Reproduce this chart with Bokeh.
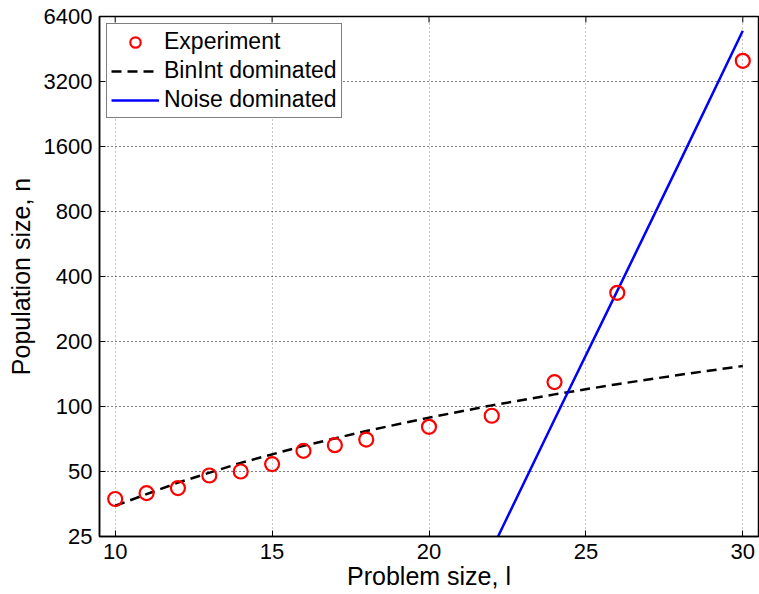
import math

from bokeh.plotting import figure
from bokeh.models import FixedTicker, Legend, LegendItem, Range1d
from bokeh.embed import file_html
from bokeh.resources import INLINE

# Measured population sizes per problem size
problem_size = [10, 11, 12, 13, 14, 15, 16, 17, 18, 20, 22, 24, 26, 30]
population = [37.3, 39.7, 41.9, 47.9, 50, 54.1, 62.3, 66.2, 70.3, 80.5, 90.6,
              129.7, 336, 3990]

# BinInt-dominated model curve
binint_l = [10, 12, 14, 16, 18, 20, 22, 24, 26, 28, 30]
binint_n = [34.7, 44.4, 54.8, 65.7, 77.0, 88.8, 101.2, 113.8, 126.9, 140.3, 154]

# Noise-dominated model curve
noise_l = [22.2, 24, 26, 28, 30]
noise_n = [25, 87, 343, 1365, 5500]

x_ticks = [10, 15, 20, 25, 30]
y_ticks = [25, 50, 100, 200, 400, 800, 1600, 3200, 6400]
y_tick_labels = {t: str(t) for t in y_ticks}

X_MIN, X_MAX = 9.5, 30.5
Y_MIN, Y_MAX = 25, 6400

FONT = "Liberation Sans"
TICK_SIZE = "22px"
LABEL_SIZE = "25px"

p = figure(width=759, height=594, output_backend="svg", toolbar_location=None,
           y_axis_type="log",
           x_range=Range1d(X_MIN, X_MAX), y_range=Range1d(Y_MIN, Y_MAX),
           min_border_left=99, min_border_right=1, min_border_top=16,
           min_border_bottom=58)

p.background_fill_color = "white"
p.border_fill_color = "white"
p.outline_line_color = "black"
p.outline_line_width = 1.5

# Axes with inward ticks
for ax in (p.xaxis[0], p.yaxis[0]):
    ax.major_tick_in = 6
    ax.major_tick_out = 0
    ax.minor_tick_line_color = None
    ax.axis_line_width = 1.5
    ax.major_tick_line_width = 1
    ax.major_label_text_font = FONT
    ax.major_label_text_font_size = TICK_SIZE
    ax.major_label_text_color = "black"
    ax.axis_label_text_font = FONT
    ax.axis_label_text_font_size = LABEL_SIZE
    ax.axis_label_text_font_style = "normal"
    ax.axis_label_text_color = "black"

p.xaxis.ticker = FixedTicker(ticks=x_ticks)
p.yaxis.ticker = FixedTicker(ticks=y_ticks)
p.yaxis.major_label_overrides = y_tick_labels
p.xaxis.major_label_standoff = 7
p.yaxis.major_label_standoff = 7
p.xaxis.axis_label_standoff = 0
p.yaxis.axis_label_standoff = 6
p.xaxis.axis_label = "Problem size, l"
p.yaxis.axis_label = "Population size, n"

# Dotted grid
p.xgrid.ticker = FixedTicker(ticks=x_ticks)
p.xgrid.grid_line_color = "#8c8c8c"
p.xgrid.grid_line_dash = "1 3"
p.xgrid.grid_line_width = 1
p.ygrid.grid_line_color = "black"
p.ygrid.grid_line_dash = "1 3"
p.ygrid.grid_line_width = 1

# Inward tick marks on the top and right edges of the box
p.scatter(x_ticks, [Y_MAX] * len(x_ticks), marker="dash", size=12,
          angle=math.pi / 2, line_color="black", line_width=1)
p.scatter([X_MAX] * len(y_ticks), y_ticks, marker="dash", size=12,
          line_color="black", line_width=1)

# Series
r_bin = p.line(binint_l, binint_n, line_color="black", line_width=2.5,
               line_dash="10 6")
r_noise = p.line(noise_l, noise_n, line_color="#0000ff", line_width=2.5)
r_exp = p.scatter(problem_size, population, marker="circle", size=14,
                  fill_color=None, line_color="#ff0000", line_width=2.2)

legend = Legend(items=[
    LegendItem(label="Experiment", renderers=[r_exp]),
    LegendItem(label="BinInt dominated", renderers=[r_bin]),
    LegendItem(label="Noise dominated", renderers=[r_noise]),
], location="top_left")
legend.margin = 7
legend.padding = 4
legend.spacing = 2
legend.label_height = 26
legend.glyph_height = 26
legend.glyph_width = 48
legend.label_standoff = 5
legend.label_text_font = FONT
legend.label_text_font_size = "23px"
legend.label_text_color = "black"
legend.border_line_color = "black"
legend.border_line_width = 1.5
legend.background_fill_color = "white"
legend.background_fill_alpha = 1
p.add_layout(legend)

open("out.html", "w").write(file_html(p, INLINE))
